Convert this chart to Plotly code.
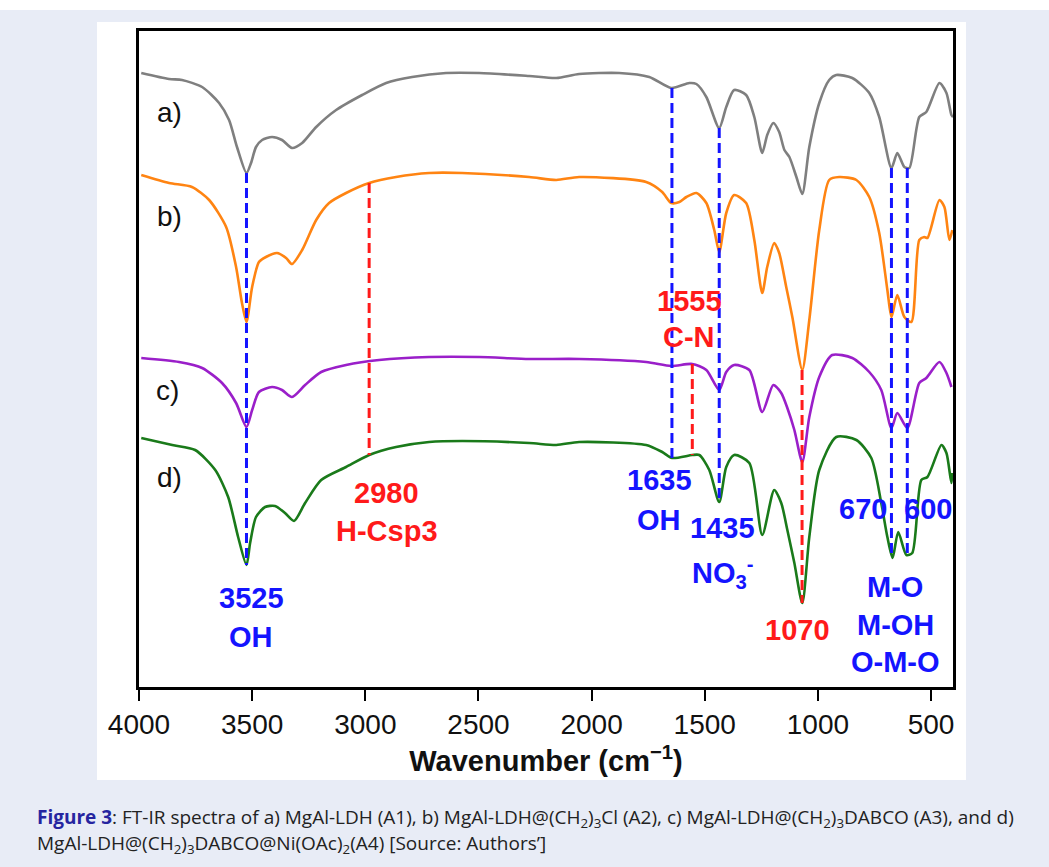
import plotly.graph_objects as go

# ---------------- data (wavenumber cm-1, transmittance a.u. with offsets) ----------------
wn_a = [3990, 3867, 3810, 3721, 3646, 3602, 3567, 3525, 3505, 3483, 3456, 3412, 3368, 3324,
        3279, 3217, 3129, 3014, 2908, 2793, 2643, 2497, 2276, 2156, 2055, 1878, 1745, 1648,
        1568, 1537, 1493, 1436, 1405, 1370, 1317, 1281, 1246, 1224, 1197, 1171, 1148, 1126,
        1095, 1069, 1038, 994, 950, 919, 848, 773, 729, 675, 649, 618, 596, 552, 521, 463,
        432, 410, 403]
t_a = [614, 608, 607, 600, 584, 567, 540, 514, 524, 540, 547, 550, 547, 539,
       544, 560, 577, 592, 604, 610, 614, 614, 611, 609, 613, 614, 610, 599,
       604, 603, 590, 559, 580, 597, 592, 570, 534, 552, 564, 555, 537, 530,
       510, 493, 540, 584, 607, 612, 609, 594, 570, 519, 534, 520, 519, 570, 575, 604,
       594, 572, 570]

wn_b = [3990, 3867, 3766, 3690, 3615, 3571, 3545, 3525, 3500, 3470, 3439, 3390, 3350, 3324,
        3279, 3217, 3160, 3085, 2983, 2864, 2718, 2572, 2276, 2156, 2055, 1759, 1688, 1648,
        1612, 1581, 1537, 1493, 1458, 1436, 1405, 1370, 1317, 1281, 1246, 1224, 1193, 1171,
        1140, 1113, 1069, 1038, 994, 950, 906, 830, 773, 729, 693, 675, 649, 618, 587, 552,
        530, 516, 463, 441, 419, 406]
t_b = [512, 504, 500, 487, 460, 420, 384, 365, 400, 425, 430, 434, 429, 423,
       437, 467, 484, 494, 504, 510, 514, 514, 510, 507, 510, 505, 495, 484,
       485, 490, 494, 484, 457, 435, 474, 492, 484, 447, 394, 420, 444, 434,
       400, 370, 317, 367, 457, 507, 510, 507, 490, 454, 397, 370, 392, 370, 365, 447,
       450, 449, 487, 480, 447, 457]

wn_c = [3990, 3823, 3721, 3633, 3571, 3525, 3500, 3470, 3412, 3368, 3324, 3266, 3195, 3085,
        2939, 2718, 2497, 2276, 2055, 1759, 1648, 1555, 1493, 1436, 1405, 1370, 1303, 1246,
        1197, 1162, 1135, 1104, 1069, 1038, 994, 937, 848, 773, 720, 675, 649, 605, 552,
        521, 463, 432, 410]
t_c = [329, 325, 319, 304, 284, 260, 277, 295, 300, 297, 290, 302, 315, 322,
       327, 330, 330, 328, 328, 325, 321, 323, 317, 297, 315, 322, 317, 275,
       302, 294, 279, 257, 225, 270, 310, 332, 329, 315, 297, 259, 274, 259, 304,
       309, 325, 314, 300]

wn_d = [3990, 3853, 3752, 3663, 3606, 3562, 3525, 3509, 3483, 3443, 3399, 3355, 3315, 3266,
        3195, 3085, 2983, 2864, 2718, 2572, 2276, 2156, 2055, 1759, 1688, 1644, 1555, 1524,
        1480, 1436, 1405, 1370, 1303, 1246, 1193, 1162, 1135, 1104, 1069, 1038, 994, 919,
        830, 764, 720, 693, 670, 645, 609, 583, 543, 516, 454, 432, 410, 406]
t_d = [249, 242, 237, 217, 190, 150, 122, 144, 170, 180, 181, 174, 166, 184,
       207, 220, 232, 240, 245, 246, 244, 242, 245, 242, 235, 229, 232, 232,
       217, 185, 220, 232, 224, 152, 197, 184, 157, 124, 84, 150, 217, 250,
       247, 229, 184, 150, 129, 155, 132, 134, 207, 210, 242, 234, 204, 214]

series_names = ["a)", "b)", "c)", "d)"]
series_colors = ["#7f7f7f", "#ff8412", "#9a1fc9", "#1a7a1a"]

# marker lines: position, top, bottom, colour
peak_wn = [3525, 2983, 1645, 1436, 1555, 1070, 675, 605]
peak_top = [514, 504, 599, 559, 323, 317, 519, 519]
peak_bottom = [122, 232, 229, 185, 232, 84, 129, 132]
peak_color = ["blue", "red", "blue", "blue", "red", "red", "blue", "blue"]

# peak labels: text, wavenumber, level, colour
lab_text = ["3525", "OH", "2980", "H-Csp3", "1555", "C-N", "1635", "OH", "1435",
            "NO<sub>3</sub><sup>-</sup>", "1070", "670", "600", "M-O", "M-OH", "O-M-O"]
lab_wn = [3505, 3505, 2906, 2906, 1568, 1568, 1701, 1701, 1421, 1418, 1091, 799, 512, 658, 658, 658]
lab_t = [89, 50, 194, 156, 386, 350, 207, 167, 159, 114, 57, 178, 178, 100, 62, 25]
lab_color = ["blue", "blue", "red", "red", "red", "red", "blue", "blue", "blue",
             "blue", "red", "blue", "blue", "blue", "blue", "blue"]

name_wn = [3867, 3867, 3875, 3867]
name_t = [575, 471, 297, 210]

x_ticks = [4000, 3500, 3000, 2500, 2000, 1500, 1000, 500]

BLUE = "#1414ff"
RED = "#ff1a1a"
cmap = {"blue": BLUE, "red": RED}

fig = go.Figure()

for wx, ty, nm, col in zip([wn_a, wn_b, wn_c, wn_d], [t_a, t_b, t_c, t_d], series_names, series_colors):
    fig.add_trace(go.Scatter(x=wx, y=ty, mode="lines", name=nm,
                             line=dict(color=col, width=2.6, shape="spline", smoothing=0.7),
                             showlegend=False))

# dashed marker lines drawn over the spectra
for w, t0, t1, c in zip(peak_wn, peak_top, peak_bottom, peak_color):
    fig.add_trace(go.Scatter(x=[w, w], y=[t0, t1], mode="lines",
                             line=dict(color=cmap[c], width=3, dash="10px,5px"),
                             hoverinfo="skip", showlegend=False))

ann = []
for tx, w, t, c in zip(lab_text, lab_wn, lab_t, lab_color):
    ann.append(dict(x=w, y=t, xref="x", yref="y", text="<b>%s</b>" % tx, showarrow=False,
                    font=dict(family="Liberation Sans, Arial", size=29, color=cmap[c]),
                    xanchor="center", yanchor="middle"))
for nm, w, t in zip(series_names, name_wn, name_t):
    ann.append(dict(x=w, y=t, xref="x", yref="y", text=nm, showarrow=False,
                    font=dict(family="Liberation Sans, Arial", size=28, color="#111111"),
                    xanchor="center", yanchor="middle"))

L, R, T, B = 139, 96, 31, 180
W, H = 1049, 867
pw, ph = W - L - R, H - T - B


def px(x):
    return (x - L) / pw


def py(y):
    return (H - B - y) / ph


cap1 = ("<span style='color:#2525a0'><b>Figure 3</b></span>: FT-IR spectra of a) MgAl-LDH (A1), "
        "b) MgAl-LDH@(CH<sub>2</sub>)<sub>3</sub>Cl (A2), c) MgAl-LDH@(CH<sub>2</sub>)<sub>3</sub>DABCO (A3), and d)")
cap2 = "MgAl-LDH@(CH<sub>2</sub>)<sub>3</sub>DABCO@Ni(OAc)<sub>2</sub>(A4) [Source: Authors’]"
for txt, yy in [(cap1, 818), (cap2, 844)]:
    ann.append(dict(x=px(35), y=py(yy), xref="paper", yref="paper", text=txt, showarrow=False,
                    xanchor="left", yanchor="middle",
                    font=dict(family="Open Sans", size=19, color="#222222")))

shapes = [
    dict(type="rect", xref="paper", yref="paper", x0=px(97), x1=px(966), y0=py(780), y1=py(22),
         fillcolor="white", line=dict(width=0), layer="below"),
    dict(type="rect", xref="paper", yref="paper", x0=px(0), x1=px(W), y0=py(10), y1=py(0),
         fillcolor="white", line=dict(width=0), layer="below"),
]

fig.update_layout(
    width=W, height=H,
    margin=dict(l=L, r=R, t=T, b=B),
    paper_bgcolor="#e8ecf6", plot_bgcolor="white",
    annotations=ann, shapes=shapes,
    xaxis=dict(range=[4000, 403], tickvals=x_ticks, ticktext=[str(v) for v in x_ticks],
               ticks="outside", ticklen=11, tickwidth=2, tickcolor="black",
               showline=True, linecolor="black", linewidth=2.5, mirror=True,
               showgrid=False, zeroline=False,
               tickfont=dict(family="Liberation Sans, Arial", size=28, color="#111111"),
               title=dict(text="<b>Wavenumber (cm<sup>−1</sup>)</b>", standoff=12,
                          font=dict(family="Liberation Sans, Arial", size=29, color="#111111"))),
    yaxis=dict(range=[0, 656], showticklabels=False, ticks="", showgrid=False, zeroline=False,
               showline=True, linecolor="black", linewidth=2.5, mirror=True),
)

fig.write_html("out.html")
